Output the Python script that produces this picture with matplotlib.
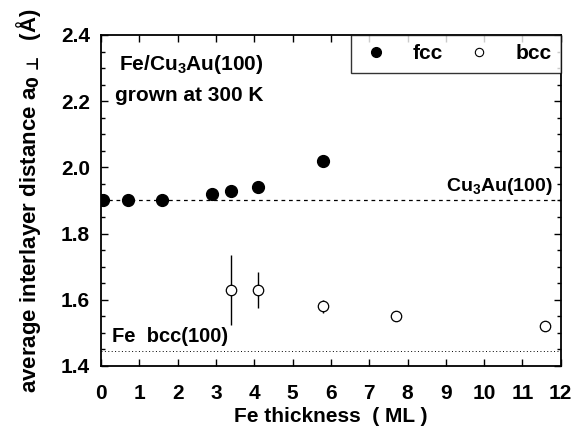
import matplotlib
matplotlib.use("Agg")
import matplotlib.pyplot as plt
from matplotlib.ticker import MultipleLocator
from matplotlib.lines import Line2D

plt.rcParams['font.family'] = ['Liberation Sans', 'DejaVu Sans']
plt.rcParams['font.weight'] = 'bold'
plt.rcParams['mathtext.fontset'] = 'custom'
plt.rcParams['mathtext.rm'] = 'Liberation Sans:bold'
plt.rcParams['mathtext.it'] = 'Liberation Sans:bold'
plt.rcParams['mathtext.bf'] = 'Liberation Sans:bold'

# fcc-фаза
fcc_x = [0.05, 0.7, 1.6, 2.9, 3.4, 4.1, 5.8]
fcc_y = [1.90, 1.90, 1.90, 1.92, 1.93, 1.94, 2.02]

# bcc-фаза с погрешностями
bcc_x = [3.4, 4.1, 5.8, 7.7, 11.6]
bcc_y = [1.63, 1.63, 1.58, 1.55, 1.52]
bcc_err = [0.105, 0.055, 0.02, 0.015, 0.015]

cu3au_level = 1.90
fe_bcc_level = 1.445

fig = plt.figure(figsize=(5.74, 4.32), dpi=100)
ax = fig.add_axes([0.176, 0.153, 0.801, 0.766])

ax.axhline(cu3au_level, color='black', linestyle=(0, (3, 3)), linewidth=0.9)
ax.axhline(fe_bcc_level, color='black', linestyle=(0, (1, 2.5)), linewidth=0.7)

ax.plot(fcc_x, fcc_y, 'o', color='black', markersize=8.5)
ax.errorbar(bcc_x, bcc_y, yerr=bcc_err, fmt='o', color='black', mfc='white',
            mec='black', markersize=7.5, mew=0.9, elinewidth=1.0, capsize=0)
ax.plot(bcc_x, bcc_y, '.', color='black', markersize=1)

ax.set_xlim(0, 12)
ax.set_ylim(1.4, 2.4)
ax.xaxis.set_major_locator(MultipleLocator(1))
ax.yaxis.set_major_locator(MultipleLocator(0.2))
ax.yaxis.set_minor_locator(MultipleLocator(0.05))
ax.yaxis.set_major_formatter(matplotlib.ticker.FormatStrFormatter('%.1f'))
ax.tick_params(which='both', direction='in', top=True, right=True,
               labelsize=15, width=1.0)
ax.tick_params(axis='x', pad=13)
ax.tick_params(axis='y', pad=8)
ax.tick_params(which='major', length=5)
ax.tick_params(which='minor', length=3)
for s in ax.spines.values():
    s.set_linewidth(1.3)

ax.set_xlabel('Fe thickness  ( ML )', fontsize=15, fontweight='bold', labelpad=3)
ax.set_ylabel(r'average interlayer distance a$_{\mathbf{0}\,\bot}$  (Å)',
              fontsize=16, fontweight='bold', labelpad=13,
              math_fontfamily='dejavusans')

ax.text(0.48, 2.345, r'Fe/Cu$_3$Au(100)', fontsize=15, va='top')
ax.text(0.37, 2.245, 'grown at 300 K', fontsize=15, va='top')
ax.text(11.8, 1.91, r'Cu$_3$Au(100)', fontsize=14, ha='right', va='bottom')
ax.text(0.28, 1.46, 'Fe  bcc(100)', fontsize=14.5, va='bottom')

handles = [
    Line2D([], [], marker='o', linestyle='none', color='black', markersize=7),
    Line2D([], [], marker='o', linestyle='none', mfc='white', mec='black',
           markersize=6, mew=0.8),
]
leg = ax.legend(handles, ['fcc', 'bcc'], loc='upper right', ncol=2,
                frameon=True, fancybox=False, borderaxespad=0, fontsize=15,
                handletextpad=1.0, columnspacing=1.0, borderpad=0.45,
                handlelength=1.5)
leg.get_frame().set_edgecolor('black')
leg.get_frame().set_linewidth(1.0)

fig.savefig('out.png', dpi=100)
